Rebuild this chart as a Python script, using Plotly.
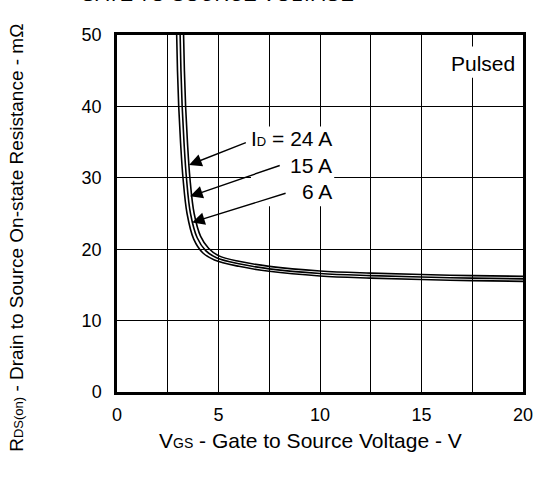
import plotly.graph_objects as go

# Data
vgs_24a = [3.28, 3.32, 3.38, 3.47, 3.59, 3.80, 4.12, 4.52, 5.0, 6.0, 7.5, 10.0, 12.5, 15.0, 17.5, 20.0]
rds_24a = [50.0, 45.0, 40.0, 35.0, 30.0, 25.0, 21.8, 20.1, 19.1, 18.3, 17.6, 16.95, 16.65, 16.45, 16.3, 16.2]

vgs_15a = [3.11, 3.15, 3.21, 3.30, 3.42, 3.62, 3.95, 4.37, 4.9, 6.0, 7.5, 10.0, 12.5, 15.0, 17.5, 20.0]
rds_15a = [50.0, 45.0, 40.0, 35.0, 30.0, 25.0, 21.6, 19.8, 18.8, 17.95, 17.25, 16.6, 16.3, 16.1, 15.95, 15.85]

vgs_6a = [2.94, 2.98, 3.04, 3.13, 3.25, 3.45, 3.78, 4.22, 4.8, 6.0, 7.5, 10.0, 12.5, 15.0, 17.5, 20.0]
rds_6a = [50.0, 45.0, 40.0, 35.0, 30.0, 25.0, 21.4, 19.5, 18.5, 17.6, 16.9, 16.25, 15.95, 15.75, 15.6, 15.5]

x_ticks = [0, 2.5, 5, 7.5, 10, 12.5, 15, 17.5, 20]
x_tick_text = ["0", "", "5", "", "10", "", "15", "", "20"]
y_ticks = [0, 10, 20, 30, 40, 50]
y_tick_text = ["0", "10", "20", "30", "40", "50"]

labels = ["I<span style='font-size:13px'>D</span> = 24 A", "15 A", "6 A"]
label_pos = [(10.7, 35.5), (10.7, 31.7), (10.7, 28.1)]
arrow_heads = [(3.55, 31.8), (3.6, 27.4), (3.7, 23.75)]
arrow_tails = [(6.42, 35.0), (8.09, 31.8), (8.38, 27.9)]

FONT = "Liberation Sans, Arial, sans-serif"

fig = go.Figure()
for xs, ys, name in [(vgs_24a, rds_24a, "24 A"), (vgs_15a, rds_15a, "15 A"), (vgs_6a, rds_6a, "6 A")]:
    fig.add_trace(go.Scatter(x=xs, y=ys, mode="lines", name=name,
                             line=dict(color="black", width=1.6, shape="spline", smoothing=1.0),
                             showlegend=False, hoverinfo="skip"))

shapes = [
    dict(type="rect", xref="x", yref="y", x0=6.6, x1=10.7, y0=26.0, y1=37.2,
         fillcolor="white", line=dict(width=0), layer="between"),
    dict(type="rect", xref="x", yref="y", x0=16.4, x1=19.7, y0=44.0, y1=48.4,
         fillcolor="white", line=dict(width=0), layer="between"),
]

annotations = []
for (hx, hy), (tx, ty) in zip(arrow_heads, arrow_tails):
    annotations.append(dict(x=hx, y=hy, ax=tx, ay=ty, xref="x", yref="y", axref="x", ayref="y",
                            text="", showarrow=True, arrowhead=2, arrowsize=1.8, arrowwidth=1.4,
                            arrowcolor="black"))
for txt, (lx, ly) in zip(labels, label_pos):
    annotations.append(dict(x=lx, y=ly, xref="x", yref="y", text=txt, showarrow=False,
                            xanchor="right", yanchor="middle",
                            font=dict(family=FONT, size=21, color="black")))
annotations.append(dict(x=19.7, y=46.0, xref="x", yref="y", text="Pulsed", showarrow=False,
                        xanchor="right", yanchor="middle",
                        font=dict(family=FONT, size=21, color="black")))
annotations.append(dict(x=(78 - 117) / 409, y=1 + (35 - 7) / 357, xref="paper", yref="paper",
                        text="GATE TO SOURCE VOLTAGE",
                        showarrow=False, xanchor="left", yanchor="bottom",
                        font=dict(family=FONT, size=20, color="black")))
annotations.append(dict(x=(312 - 117) / 409, y=(392 - 440) / 357, xref="paper", yref="paper",
                        text="V<span style='font-size:14px'>GS</span> - Gate to Source Voltage - V",
                        showarrow=False, xanchor="center", yanchor="middle",
                        font=dict(family=FONT, size=21, color="black")))
annotations.append(dict(x=(15 - 117) / 409, y=(392 - 238) / 357, xref="paper", yref="paper",
                        text="R<span style='font-size:13px'>DS(on)</span> - Drain to Source On-state Resistance - mΩ",
                        textangle=-90, showarrow=False, xanchor="center", yanchor="middle",
                        font=dict(family=FONT, size=19, color="black")))

fig.update_layout(
    width=545, height=478,
    margin=dict(l=117, r=19, t=35, b=86),
    paper_bgcolor="white", plot_bgcolor="white",
    shapes=shapes, annotations=annotations,
    font=dict(family=FONT, size=18, color="black"),
    xaxis=dict(range=[0, 20], tickvals=x_ticks, ticktext=x_tick_text, showgrid=True,
               gridcolor="black", gridwidth=1, showline=True, linecolor="black", linewidth=2.5,
               mirror=True, ticks="", zeroline=False, tickfont=dict(family=FONT, size=18),
               ticklabelstandoff=5, fixedrange=True),
    yaxis=dict(range=[0, 50], tickvals=y_ticks, ticktext=y_tick_text, showgrid=True,
               gridcolor="black", gridwidth=1, showline=True, linecolor="black", linewidth=2.5,
               mirror=True, ticks="", zeroline=False, tickfont=dict(family=FONT, size=18),
               ticklabelstandoff=9, fixedrange=True),
)

fig.write_html("out.html", config={"displayModeBar": False},
               post_script="document.body.style.margin='0';document.body.style.overflow='hidden';")
